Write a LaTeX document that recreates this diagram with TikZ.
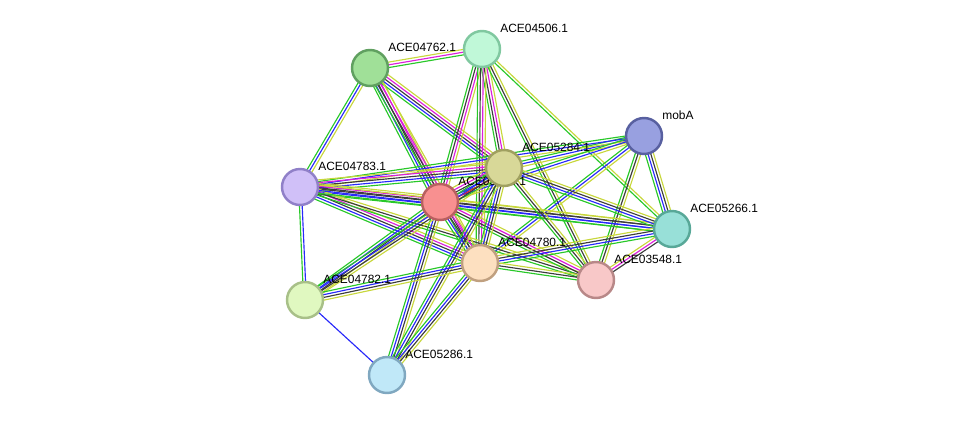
\documentclass[tikz,border=0pt]{standalone}
\usepackage{fontspec}
\setmainfont{Liberation Sans}
\usetikzlibrary{calc,backgrounds}

% evidence colours
\definecolor{neigh}{RGB}{40,200,40}
\definecolor{fusion}{RGB}{240,30,30}
\definecolor{cooc}{RGB}{40,40,250}
\definecolor{coexp}{RGB}{60,60,60}
\definecolor{exper}{RGB}{220,30,220}
\definecolor{tmine}{RGB}{200,215,60}

% one parallel line per evidence channel
\newcommand{\linkedge}[3]{%
  \def\nlines{0}%
  \foreach \c [count=\i] in {#3} {\xdef\nlines{\i}}%
  \foreach \c [count=\i] in {#3} {%
    \pgfmathsetmacro{\off}{(\i-(\nlines+1)/2)*0.054}%
    \draw[edge, \c] ($(#1.center)!\off cm!90:(#2.center)$) -- ($(#2.center)!\off cm!-90:(#1.center)$);
  }%
}

\begin{document}
\begin{tikzpicture}[
    x=0.02cm, y=-0.02cm,
    prot/.style={circle, draw, line width=1.4pt, minimum size=0.72cm, inner sep=0pt},
    lbl/.style={anchor=west, inner sep=0pt, font=\fontsize{6.8}{8}\selectfont},
    edge/.style={line width=0.65pt}
]
\useasboundingbox (0,0) rectangle (976,420);

\node[prot, fill={rgb,255:red,160;green,224;blue,152}, draw={rgb,255:red,96;green,160;blue,96}] (n4762) at (370,68) {};
\node[lbl] (t4762) at ($(n4762)+(18,-21)$) {ACE04762.1};
\node[prot, fill={rgb,255:red,192;green,248;blue,216}, draw={rgb,255:red,128;green,200;blue,160}] (n4506) at (482,49) {};
\node[lbl] (t4506) at ($(n4506)+(18,-21)$) {ACE04506.1};
\node[prot, fill={rgb,255:red,152;green,160;blue,224}, draw={rgb,255:red,88;green,96;blue,160}] (mobA) at (644,136) {};
\node[lbl] (tmobA) at ($(mobA)+(18,-21)$) {mobA};
\node[prot, fill={rgb,255:red,208;green,192;blue,248}, draw={rgb,255:red,144;green,128;blue,200}] (n4783) at (300,187) {};
\node[lbl] (t4783) at ($(n4783)+(18,-21)$) {ACE04783.1};
\node[prot, fill={rgb,255:red,248;green,144;blue,144}, draw={rgb,255:red,184;green,96;blue,96}] (cen) at (440,202) {};
\node[lbl] (tcen) at ($(cen)+(18,-21)$) {ACE05285.1};
\node[prot, fill={rgb,255:red,216;green,216;blue,152}, draw={rgb,255:red,160;green,160;blue,96}] (n5284) at (504,168) {};
\node[lbl] (t5284) at ($(n5284)+(18,-21)$) {ACE05284.1};
\node[prot, fill={rgb,255:red,152;green,224;blue,216}, draw={rgb,255:red,88;green,168;blue,152}] (n5266) at (672,229) {};
\node[lbl] (t5266) at ($(n5266)+(18,-21)$) {ACE05266.1};
\node[prot, fill={rgb,255:red,253;green,224;blue,192}, draw={rgb,255:red,192;green,160;blue,128}] (n4780) at (480,263) {};
\node[lbl] (t4780) at ($(n4780)+(18,-21)$) {ACE04780.1};
\node[prot, fill={rgb,255:red,248;green,200;blue,200}, draw={rgb,255:red,184;green,136;blue,136}] (n3548) at (596,280) {};
\node[lbl] (t3548) at ($(n3548)+(18,-21)$) {ACE03548.1};
\node[prot, fill={rgb,255:red,224;green,248;blue,192}, draw={rgb,255:red,168;green,192;blue,136}] (n4782) at (305,300) {};
\node[lbl] (t4782) at ($(n4782)+(18,-21)$) {ACE04782.1};
\node[prot, fill={rgb,255:red,192;green,232;blue,248}, draw={rgb,255:red,128;green,168;blue,192}] (n5286) at (387,375) {};
\node[lbl] (t5286) at ($(n5286)+(18,-21)$) {ACE05286.1};

\begin{pgfonlayer}{background}
\linkedge{n4762}{n4506}{neigh,exper,tmine}
\linkedge{n4762}{n4783}{neigh,cooc,tmine}
\linkedge{n4762}{cen}{neigh,cooc,coexp,exper,tmine}
\linkedge{n4762}{n5284}{neigh,cooc,coexp,exper,tmine}
\linkedge{n4762}{n4780}{neigh,coexp,exper,tmine}
\linkedge{n4506}{cen}{neigh,coexp,exper,tmine}
\linkedge{n4506}{n5284}{neigh,coexp,exper,tmine}
\linkedge{n4506}{n4780}{neigh,coexp,exper,tmine}
\linkedge{n4506}{n3548}{neigh,coexp,tmine}
\linkedge{n4506}{n5266}{neigh,tmine}
\linkedge{mobA}{n5284}{neigh,cooc,tmine}
\linkedge{mobA}{n4783}{neigh,cooc,tmine}
\linkedge{mobA}{cen}{neigh,cooc,tmine}
\linkedge{mobA}{n4780}{neigh,cooc,tmine}
\linkedge{mobA}{n3548}{neigh,coexp,tmine}
\linkedge{mobA}{n5266}{neigh,cooc,coexp,tmine}
\linkedge{n4783}{n5284}{neigh,cooc,coexp,exper,tmine}
\linkedge{n4783}{cen}{neigh,cooc,coexp,exper,tmine}
\linkedge{n4783}{n4780}{neigh,cooc,coexp,exper,tmine}
\linkedge{n4783}{n3548}{neigh,coexp,tmine}
\linkedge{n4783}{n5266}{neigh,cooc,coexp,tmine}
\linkedge{n4783}{n4782}{neigh,cooc}
\linkedge{cen}{n5284}{neigh,fusion,cooc,coexp,exper,tmine}
\linkedge{cen}{n4780}{neigh,cooc,coexp,exper,tmine}
\linkedge{cen}{n4782}{neigh,cooc,coexp,tmine}
\linkedge{cen}{n5286}{neigh,cooc,coexp,tmine}
\linkedge{cen}{n3548}{neigh,coexp,exper,tmine}
\linkedge{cen}{n5266}{neigh,cooc,coexp,tmine}
\linkedge{n5284}{n4780}{neigh,cooc,coexp,tmine}
\linkedge{n5284}{n4782}{neigh,cooc,coexp,tmine}
\linkedge{n5284}{n5286}{neigh,cooc,coexp,tmine}
\linkedge{n5284}{n3548}{neigh,coexp,tmine}
\linkedge{n5284}{n5266}{neigh,cooc,coexp,tmine}
\linkedge{n4780}{n5266}{neigh,cooc,coexp,tmine}
\linkedge{n4780}{n3548}{neigh,coexp,tmine}
\linkedge{n4780}{n4782}{neigh,cooc,coexp,tmine}
\linkedge{n4780}{n5286}{neigh,cooc,coexp,tmine}
\linkedge{n3548}{n5266}{coexp,exper,tmine}
\linkedge{n4782}{n5286}{cooc}
\end{pgfonlayer}
\end{tikzpicture}
\end{document}
